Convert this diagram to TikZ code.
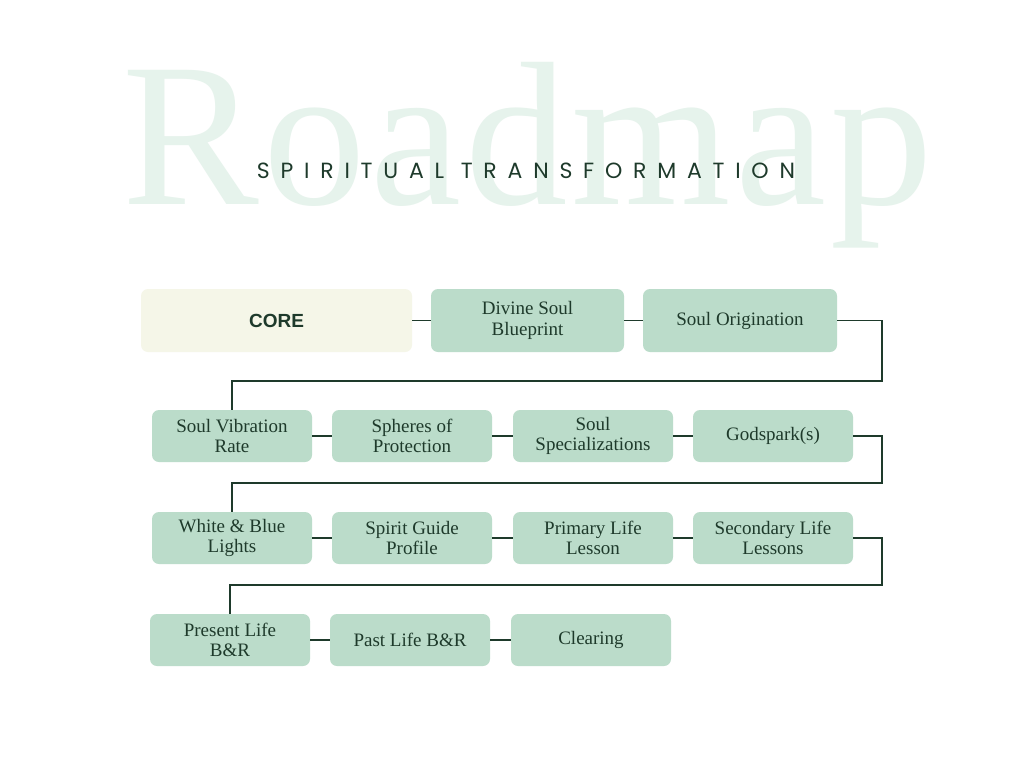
\documentclass[tikz,border=0pt]{standalone}
\usepackage{fontspec}
\setmainfont{Liberation Serif}
\newfontfamily\titlefont[LetterSpace=49]{Poppins}
\newfontfamily\ghostfont[LetterSpace=2]{Liberation Serif}
\newfontfamily\corefont{Liberation Sans}
\usetikzlibrary{positioning,calc}
\definecolor{boxgreen}{HTML}{BBDCCA}
\definecolor{corecream}{HTML}{F5F6E8}
\definecolor{ink}{HTML}{1E3A2B}
\definecolor{ghost}{HTML}{E6F3EC}

\begin{document}
\begin{tikzpicture}[x=1pt,y=-1pt,
  stage/.style={rounded corners=7pt, fill=boxgreen, minimum width=160pt,
    minimum height=52pt, align=center, text=ink, inner sep=0pt,
    font=\fontsize{19}{20.5}\selectfont},
  bigstage/.style={stage, minimum height=63pt},
  link/.style={draw=ink, line width=1.8pt}]

\useasboundingbox[fill=white] (0,0) rectangle (1024,768);

% --- Intestazione
\node[text=ghost, anchor=base, inner sep=0pt,
  font=\ghostfont\fontsize{205}{205}\selectfont] (ghostword) at (528,204) {Roadmap};
\node[text=ink, anchor=base, inner sep=0pt,
  font=\titlefont\fontsize{22}{22}\selectfont] (title) at (526,178)
  {SPIRITUAL TRANSFORMATION};

% ================== Riga 1 ==================
\node[bigstage, fill=corecream, minimum width=271pt,
  font=\corefont\bfseries\fontsize{19}{20}\selectfont] (core) at (276.5,320.5) {CORE};
\node[bigstage, minimum width=193pt] (blueprint) at (527.5,320.5) {Divine Soul\\Blueprint};
\node[bigstage, minimum width=194pt] (origination) at (740,320.5) {Soul Origination};

% ================== Riga 2 ==================
\node[stage] (vibration) at (232,436) {Soul Vibration\\Rate};
\node[stage] (spheres)   at (412,436) {Spheres of\\Protection};
\node[stage] (special)   at (593,436) {Soul\\Specializations};
\node[stage] (godspark)  at (773,436) {Godspark(s)};

% ================== Riga 3 ==================
\node[stage] (lights)    at (232,538) {White \& Blue\\Lights};
\node[stage] (guide)     at (412,538) {Spirit Guide\\Profile};
\node[stage] (primary)   at (593,538) {Primary Life\\Lesson};
\node[stage] (secondary) at (773,538) {Secondary Life\\Lessons};

% ================== Riga 4 ==================
\node[stage] (present)   at (230,640) {Present Life\\B\&R};
\node[stage] (past)      at (410,640) {Past Life B\&R};
\node[stage] (clearing)  at (591,640) {Clearing};

% --- Collegamenti orizzontali
\foreach \a/\b in {core/blueprint, blueprint/origination,
  vibration/spheres, spheres/special, special/godspark,
  lights/guide, guide/primary, primary/secondary,
  present/past, past/clearing}
  \draw[link] (\a) -- (\b);

% --- Ritorni a capo
\coordinate (wrapA) at (882,381);
\coordinate (wrapB) at (882,483);
\coordinate (wrapC) at (882,585);
\draw[link] (origination.east) -| (wrapA) -| (vibration.north);
\draw[link] (godspark.east) -| (wrapB) -| (lights.north);
\draw[link] (secondary.east) -| (wrapC) -| (present.north);

\end{tikzpicture}
\end{document}
